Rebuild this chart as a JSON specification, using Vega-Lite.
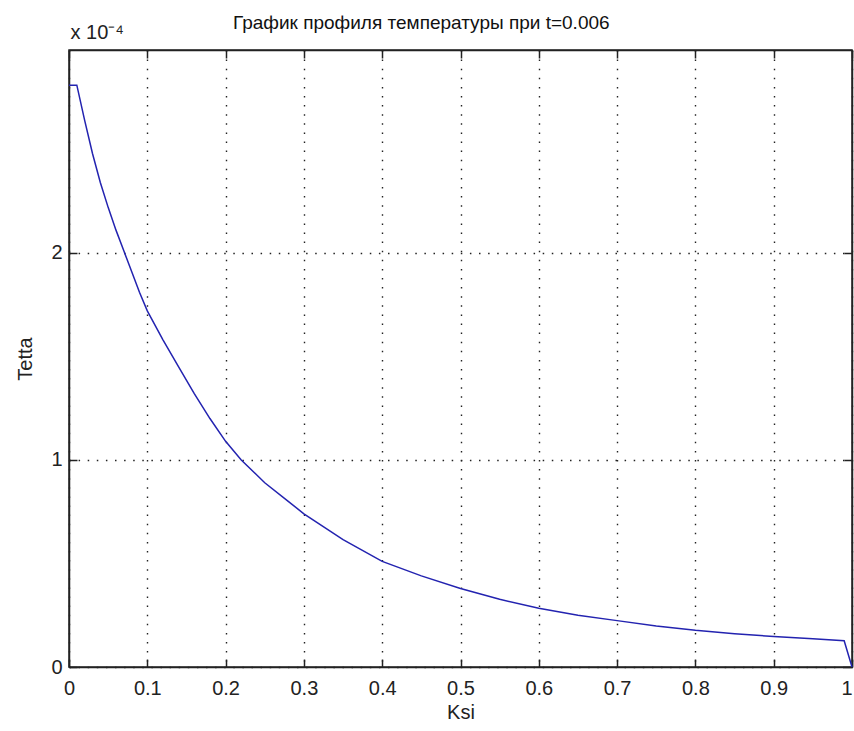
{
  "$schema": "https://vega.github.io/schema/vega-lite/v6.json",
  "width": 783,
  "height": 617,
  "autosize": "none",
  "padding": {"left": 69, "top": 50, "right": 2, "bottom": 64},
  "background": "white",
  "config": {
    "font": "Liberation Sans",
    "view": {"stroke": "#222", "strokeWidth": 1.5},
    "axis": {
      "labelFont": "Liberation Sans",
      "titleFont": "Liberation Sans",
      "labelColor": "#222",
      "titleColor": "#222",
      "titleFontWeight": "normal",
      "domainColor": "#222",
      "domainWidth": 1.5,
      "tickColor": "#222",
      "tickWidth": 1.5,
      "tickSize": -8,
      "gridColor": "#222",
      "gridOpacity": 1,
      "gridWidth": 1.4,
      "gridDash": [1.5, 7.6]
    }
  },
  "title": {
    "text": "График профиля температуры при t=0.006",
    "anchor": "start",
    "frame": "group",
    "dx": 164,
    "offset": -26,
    "baseline": "alphabetic",
    "fontSize": 19,
    "fontWeight": "normal",
    "color": "#111",
    "font": "Liberation Sans"
  },
  "data": {
    "values": [
      {"ksi": 0.0, "tetta": 2.81e-4},
      {"ksi": 0.01, "tetta": 2.81e-4},
      {"ksi": 0.02, "tetta": 2.64e-4},
      {"ksi": 0.03, "tetta": 2.48e-4},
      {"ksi": 0.04, "tetta": 2.34e-4},
      {"ksi": 0.05, "tetta": 2.22e-4},
      {"ksi": 0.06, "tetta": 2.11e-4},
      {"ksi": 0.07, "tetta": 2.01e-4},
      {"ksi": 0.08, "tetta": 1.91e-4},
      {"ksi": 0.09, "tetta": 1.81e-4},
      {"ksi": 0.10, "tetta": 1.72e-4},
      {"ksi": 0.12, "tetta": 1.58e-4},
      {"ksi": 0.14, "tetta": 1.45e-4},
      {"ksi": 0.16, "tetta": 1.32e-4},
      {"ksi": 0.18, "tetta": 1.20e-4},
      {"ksi": 0.20, "tetta": 1.09e-4},
      {"ksi": 0.22, "tetta": 1.00e-4},
      {"ksi": 0.25, "tetta": 0.89e-4},
      {"ksi": 0.28, "tetta": 0.80e-4},
      {"ksi": 0.30, "tetta": 0.74e-4},
      {"ksi": 0.35, "tetta": 0.615e-4},
      {"ksi": 0.40, "tetta": 0.51e-4},
      {"ksi": 0.45, "tetta": 0.44e-4},
      {"ksi": 0.50, "tetta": 0.379e-4},
      {"ksi": 0.55, "tetta": 0.327e-4},
      {"ksi": 0.60, "tetta": 0.284e-4},
      {"ksi": 0.65, "tetta": 0.25e-4},
      {"ksi": 0.70, "tetta": 0.224e-4},
      {"ksi": 0.75, "tetta": 0.198e-4},
      {"ksi": 0.80, "tetta": 0.177e-4},
      {"ksi": 0.85, "tetta": 0.161e-4},
      {"ksi": 0.90, "tetta": 0.147e-4},
      {"ksi": 0.95, "tetta": 0.136e-4},
      {"ksi": 0.99, "tetta": 0.127e-4},
      {"ksi": 1.00, "tetta": 0.0}
    ]
  },
  "layer": [
    {
      "mark": {"type": "line", "color": "#2323b0", "strokeWidth": 1.5},
      "encoding": {
        "x": {
          "field": "ksi", "type": "quantitative",
          "scale": {"domain": [0, 1], "nice": false, "zero": false},
          "axis": {
            "orient": "bottom",
            "values": [0, 0.1, 0.2, 0.3, 0.4, 0.5, 0.6, 0.7, 0.8, 0.9, 1],
            "format": "~g",
            "title": "Ksi",
            "labelFontSize": 20,
            "labelPadding": 19,
            "labelFlush": false,
            "labelAlign": {"condition": {"test": "datum.value == 1", "value": "right"}, "value": "center"},
            "titleFontSize": 20,
            "titleY": 35,
            "grid": true
          }
        },
        "y": {
          "field": "tetta", "type": "quantitative",
          "scale": {"domain": [0, 0.000298], "nice": false, "zero": false},
          "axis": {
            "orient": "left",
            "values": [0, 0.0001, 0.0002],
            "labelExpr": "format(datum.value * 10000, 'd')",
            "title": "Tetta",
            "labelFontSize": 20,
            "labelPadding": 15,
            "labelFlush": false,
            "titleFontSize": 20,
            "titleX": -34,
            "grid": true
          }
        }
      }
    },
    {
      "mark": {"type": "line", "strokeOpacity": 0},
      "encoding": {
        "x": {
          "field": "ksi", "type": "quantitative",
          "axis": {
            "orient": "top",
            "values": [0, 0.1, 0.2, 0.3, 0.4, 0.5, 0.6, 0.7, 0.8, 0.9, 1],
            "labels": false,
            "grid": false,
            "title": "x 10⁻⁴",
            "titleFontSize": 20,
            "titleAnchor": "start",
            "titleAlign": "left",
            "titleBaseline": "alphabetic",
            "titleX": 1,
            "titleY": -12
          }
        },
        "y": {
          "field": "tetta", "type": "quantitative",
          "axis": {
            "orient": "right",
            "values": [0, 0.0001, 0.0002],
            "labels": false,
            "grid": false,
            "title": null
          }
        }
      }
    }
  ],
  "resolve": {"axis": {"x": "independent", "y": "independent"}}
}
